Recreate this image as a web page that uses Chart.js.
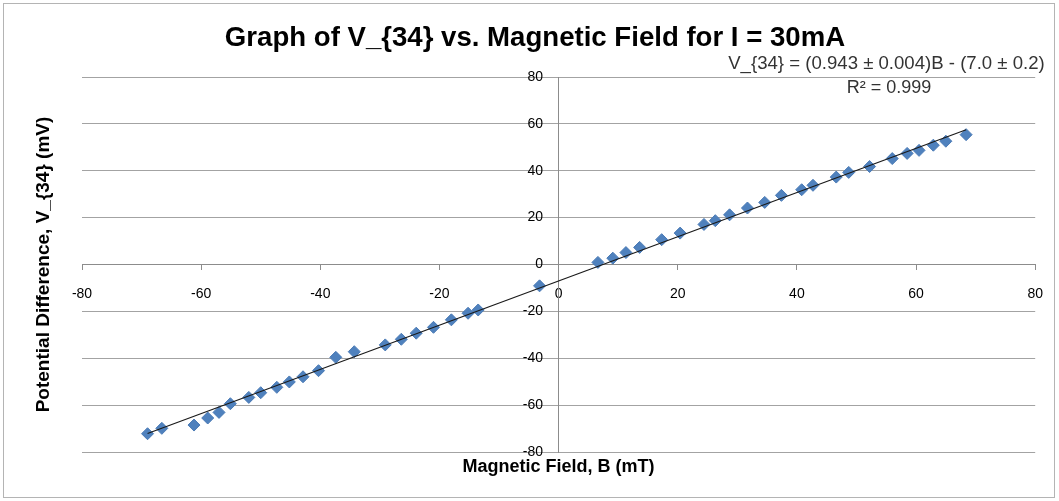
<!DOCTYPE html>
<html>
<head>
<meta charset="utf-8">
<script src="https://cdn.jsdelivr.net/npm/chart.js@4/dist/chart.umd.min.js"></script>
<style>
  body { margin: 0; background: #fff; }
  #wrap { width: 1059px; height: 501px; }
</style>
</head>
<body>
<div id="wrap"><canvas id="chart" width="1059" height="501"></canvas></div>
<script>
// measured points: magnetic field B (mT) and V_34 (mV)
const fieldB = [
    -69.0, -66.6, -61.2, -58.9, -57.0, -55.1, -52.0, -50.0, -47.3, -45.2,
    -42.9, -40.3, -37.4, -34.3, -29.1, -26.4, -23.9, -21.0, -18.0, -15.2,
    -13.5, -3.2, 6.6, 9.1, 11.3, 13.6, 17.3, 20.4, 24.4, 26.3,
    28.7, 31.7, 34.6, 37.4, 40.8, 42.7, 46.6, 48.7, 52.2, 56.0,
    58.5, 60.5, 62.9, 65.0, 68.4
];
const voltage34 = [
    -72.2, -69.9, -68.5, -65.5, -63.1, -59.4, -56.7, -54.7, -52.4, -50.1,
    -47.9, -45.3, -39.6, -37.2, -34.3, -31.9, -29.3, -26.8, -23.6, -20.8,
    -19.4, -9.1, 0.9, 2.7, 5.1, 7.3, 10.6, 13.4, 17.1, 18.7,
    21.2, 24.1, 26.5, 29.5, 31.9, 33.8, 37.3, 39.3, 41.8, 45.2,
    47.4, 48.7, 50.9, 52.6, 55.4
];

// trendline end points
const trendB = [-69.0, 68.4];
const trendV = [-72.1, 57.5];

const axisTicks = [-80, -60, -40, -20, 0, 20, 40, 60, 80];

const chartTitle = 'Graph of V_{34} vs. Magnetic Field for I = 30mA';
const xTitle = 'Magnetic Field, B (mT)';
const yTitle = 'Potential Difference, V_{34} (mV)';
const fitLine1 = 'V_{34} = (0.943 \u00b1 0.004)B - (7.0 \u00b1 0.2)';
const fitLine2 = 'R\u00b2 = 0.999';

const FONT = '"Liberation Sans", Arial, sans-serif';

const labelsPlugin = {
    id: 'labels',
    afterDraw: function (chart) {
        const ctx = chart.ctx;
        const area = chart.chartArea;
        ctx.save();

        // outer frame
        ctx.strokeStyle = '#b4b4b4';
        ctx.lineWidth = 1;
        ctx.strokeRect(3.5, 3.5, 1051, 494);

        ctx.fillStyle = '#000';
        ctx.textAlign = 'center';
        ctx.textBaseline = 'middle';

        ctx.font = 'bold 27.6px ' + FONT;
        ctx.fillText(chartTitle, 535, 38);

        ctx.font = 'bold 18px ' + FONT;
        ctx.fillText(xTitle, (area.left + area.right) / 2, 467);

        ctx.save();
        ctx.translate(44, (area.top + area.bottom) / 2);
        ctx.rotate(-Math.PI / 2);
        ctx.font = 'bold 19px ' + FONT;
        ctx.fillText(yTitle, 0, 0);
        ctx.restore();

        ctx.fillStyle = '#333';
        ctx.font = '18.6px ' + FONT;
        ctx.fillText(fitLine1, 886.5, 64);
        ctx.font = '18px ' + FONT;
        ctx.fillText(fitLine2, 889, 88);

        ctx.restore();
    }
};

const ctx = document.getElementById('chart').getContext('2d');

new Chart(ctx, {
    type: 'scatter',
    data: {
        datasets: [{
            label: 'Linear fit',
            type: 'line',
            data: trendB.map((b, i) => ({ x: b, y: trendV[i] })),
            borderColor: '#1a1a1a',
            borderWidth: 1.2,
            pointRadius: 0,
            fill: false,
            order: 0
        }, {
            label: 'V_{34}',
            data: fieldB.map((b, i) => ({ x: b, y: voltage34[i] })),
            backgroundColor: '#4f81bd',
            borderColor: '#4a7ab5',
            borderWidth: 1,
            pointStyle: 'rectRot',
            pointRadius: 6,
            order: 1
        }]
    },
    options: {
        responsive: false,
        animation: false,
        layout: {
            padding: { left: 82, right: 22, top: 77, bottom: 49 }
        },
        plugins: {
            legend: { display: false },
            title: { display: false },
            tooltip: { enabled: false }
        },
        scales: {
            x: {
                type: 'linear',
                position: { y: 0 },
                min: -80,
                max: 80,
                afterBuildTicks: function (axis) {
                    axis.ticks = axisTicks.map(v => ({ value: v }));
                },
                grid: {
                    drawOnChartArea: false,
                    drawTicks: true,
                    tickLength: 5,
                    color: '#8c8c8c'
                },
                border: { color: '#8c8c8c', width: 1 },
                ticks: {
                    padding: 16,
                    maxRotation: 0,
                    color: '#000',
                    font: { family: FONT, size: 14 }
                }
            },
            y: {
                type: 'linear',
                position: { x: 0 },
                min: -80,
                max: 80,
                afterBuildTicks: function (axis) {
                    axis.ticks = axisTicks.map(v => ({ value: v }));
                },
                grid: {
                    drawTicks: true,
                    tickLength: 5,
                    color: '#a3a3a3'
                },
                border: { color: '#8c8c8c', width: 1 },
                ticks: {
                    // centred axis puts labels flush with the axis line, pad with spaces
                    callback: function (value) { return value + '    '; },
                    color: '#000',
                    font: { family: FONT, size: 14 }
                }
            }
        }
    },
    plugins: [labelsPlugin]
});
</script>
</body>
</html>
